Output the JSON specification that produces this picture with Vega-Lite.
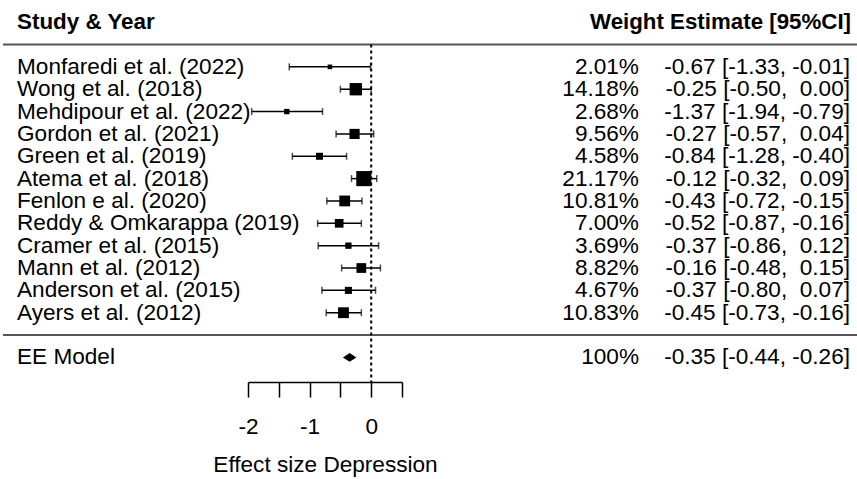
{
  "$schema": "https://vega.github.io/schema/vega-lite/v6.json",
  "width": 154,
  "height": 371,
  "autosize": {"type": "none"},
  "padding": {"left": 248, "top": 11, "right": 455, "bottom": 97},
  "background": "white",
  "config": {
    "view": {"stroke": null},
    "font": "Liberation Sans",
    "text": {"font": "Liberation Sans", "fontSize": 22.6, "color": "#000", "baseline": "middle"},
    "axisX": {"tickCount": 6}
  },
  "datasets": {
    "rows": [
      {"study": "Monfaredi et al. (2022)", "kind": "study", "weight": 2.01, "weight_label": "2.01%", "est": -0.67, "lo": -1.33, "hi": -0.01, "ci_label": "-0.67 [-1.33, -0.01]"},
      {"study": "Wong et al. (2018)", "kind": "study", "weight": 14.18, "weight_label": "14.18%", "est": -0.25, "lo": -0.50, "hi": 0.00, "ci_label": "-0.25 [-0.50, \u00a00.00]"},
      {"study": "Mehdipour et al. (2022)", "kind": "study", "weight": 2.68, "weight_label": "2.68%", "est": -1.37, "lo": -1.94, "hi": -0.79, "ci_label": "-1.37 [-1.94, -0.79]"},
      {"study": "Gordon et al. (2021)", "kind": "study", "weight": 9.56, "weight_label": "9.56%", "est": -0.27, "lo": -0.57, "hi": 0.04, "ci_label": "-0.27 [-0.57, \u00a00.04]"},
      {"study": "Green et al. (2019)", "kind": "study", "weight": 4.58, "weight_label": "4.58%", "est": -0.84, "lo": -1.28, "hi": -0.40, "ci_label": "-0.84 [-1.28, -0.40]"},
      {"study": "Atema et al. (2018)", "kind": "study", "weight": 21.17, "weight_label": "21.17%", "est": -0.12, "lo": -0.32, "hi": 0.09, "ci_label": "-0.12 [-0.32, \u00a00.09]"},
      {"study": "Fenlon e al. (2020)", "kind": "study", "weight": 10.81, "weight_label": "10.81%", "est": -0.43, "lo": -0.72, "hi": -0.15, "ci_label": "-0.43 [-0.72, -0.15]"},
      {"study": "Reddy & Omkarappa (2019)", "kind": "study", "weight": 7.00, "weight_label": "7.00%", "est": -0.52, "lo": -0.87, "hi": -0.16, "ci_label": "-0.52 [-0.87, -0.16]"},
      {"study": "Cramer et al. (2015)", "kind": "study", "weight": 3.69, "weight_label": "3.69%", "est": -0.37, "lo": -0.86, "hi": 0.12, "ci_label": "-0.37 [-0.86, \u00a00.12]"},
      {"study": "Mann et al. (2012)", "kind": "study", "weight": 8.82, "weight_label": "8.82%", "est": -0.16, "lo": -0.48, "hi": 0.15, "ci_label": "-0.16 [-0.48, \u00a00.15]"},
      {"study": "Anderson et al. (2015)", "kind": "study", "weight": 4.67, "weight_label": "4.67%", "est": -0.37, "lo": -0.80, "hi": 0.07, "ci_label": "-0.37 [-0.80, \u00a00.07]"},
      {"study": "Ayers et al. (2012)", "kind": "study", "weight": 10.83, "weight_label": "10.83%", "est": -0.45, "lo": -0.73, "hi": -0.16, "ci_label": "-0.45 [-0.73, -0.16]"},
      {"study": "EE Model", "kind": "model", "weight": 100, "weight_label": "100%", "est": -0.35, "lo": -0.44, "hi": -0.26, "ci_label": "-0.35 [-0.44, -0.26]"}
    ]
  },
  "layer": [
    {
      "data": {"values": [{"r": "line1"}, {"r": "line2"}]},
      "mark": {"type": "rule", "color": "#555", "strokeWidth": 2},
      "encoding": {
        "y": {"field": "r", "type": "nominal", "axis": null, "scale": {"domain": ["hdr", "line1", "Monfaredi et al. (2022)", "Wong et al. (2018)", "Mehdipour et al. (2022)", "Gordon et al. (2021)", "Green et al. (2019)", "Atema et al. (2018)", "Fenlon e al. (2020)", "Reddy & Omkarappa (2019)", "Cramer et al. (2015)", "Mann et al. (2012)", "Anderson et al. (2015)", "Ayers et al. (2012)", "line2", "EE Model"], "paddingInner": 0, "paddingOuter": 0.3, "align": 0}},
        "x": {"datum": -5.977, "type": "quantitative", "scale": {"domain": [-2, 0.5], "nice": false, "zero": false}, "axis": {"title": "Effect size Depression", "values": [-2, -1.5, -1, -0.5, 0, 0.5], "tickCount": 6, "format": ".1f", "labelExpr": "datum.value == -2 ? '-2' : datum.value == -1 ? '-1' : datum.value == 0 ? '0' : ' '", "labelFlush": false, "labelOverlap": false, "labelBound": false, "grid": false, "ticks": true, "tickSize": 15, "tickWidth": 1.5, "tickColor": "#000", "domainColor": "#000", "domainWidth": 1.5, "labelFontSize": 22.6, "labelColor": "#000", "labelPadding": 18, "labelFont": "Liberation Sans", "titleFont": "Liberation Sans", "titleFontSize": 22.6, "titleFontWeight": "normal", "titleColor": "#000", "titlePadding": 16}},
        "x2": {"datum": 7.886}
      }
    },
    {
      "data": {"values": [{"d": 0}]},
      "mark": {"type": "rule", "color": "#000", "strokeWidth": 2, "strokeDash": [3, 3]},
      "encoding": {
        "x": {"field": "d", "type": "quantitative"},
        "y": {"datum": "line1", "type": "nominal"},
        "y2": {"value": "height"}
      }
    },
    {
      "data": {"name": "rows"},
      "transform": [{"filter": "datum.kind == 'study'"}],
      "layer": [
        {"mark": {"type": "rule", "color": "#000", "strokeWidth": 1.5}, "encoding": {"x": {"field": "lo", "type": "quantitative"}, "x2": {"field": "hi"}, "y": {"field": "study", "type": "nominal"}}},
        {"mark": {"type": "tick", "color": "#000", "thickness": 1.5, "size": 7, "orient": "vertical"}, "encoding": {"x": {"field": "lo", "type": "quantitative"}, "y": {"field": "study", "type": "nominal"}}},
        {"mark": {"type": "tick", "color": "#000", "thickness": 1.5, "size": 7, "orient": "vertical"}, "encoding": {"x": {"field": "hi", "type": "quantitative"}, "y": {"field": "study", "type": "nominal"}}},
        {"mark": {"type": "point", "shape": "square", "filled": true, "color": "#000", "opacity": 1, "strokeWidth": 0}, "encoding": {"x": {"field": "est", "type": "quantitative"}, "y": {"field": "study", "type": "nominal"}, "size": {"field": "weight", "type": "quantitative", "scale": {"domain": [0, 21.17], "range": [0, 228]}, "legend": null}}}
      ]
    },
    {
      "data": {"name": "rows"},
      "transform": [{"filter": "datum.kind == 'model'"}],
      "mark": {"type": "point", "shape": "M-1,0L0,-0.65L1,0L0,0.65Z", "filled": true, "color": "#000", "opacity": 1, "size": 180, "strokeWidth": 0},
      "encoding": {"x": {"field": "est", "type": "quantitative"}, "y": {"field": "study", "type": "nominal"}}
    },
    {
      "data": {"name": "rows"},
      "layer": [
        {"mark": {"type": "text", "align": "left"}, "encoding": {"x": {"datum": -5.75, "type": "quantitative"}, "y": {"field": "study", "type": "nominal"}, "text": {"field": "study"}}},
        {"mark": {"type": "text", "align": "right"}, "encoding": {"x": {"datum": 4.347, "type": "quantitative"}, "y": {"field": "study", "type": "nominal"}, "text": {"field": "weight_label"}}},
        {"mark": {"type": "text", "align": "right"}, "encoding": {"x": {"datum": 7.773, "type": "quantitative"}, "y": {"field": "study", "type": "nominal"}, "text": {"field": "ci_label"}}}
      ]
    },
    {
      "data": {"values": [{"h": "Study & Year", "r": "hdr"}]},
      "mark": {"type": "text", "align": "left", "fontWeight": "bold", "fontSize": 22.4},
      "encoding": {"x": {"datum": -5.75, "type": "quantitative"}, "y": {"field": "r", "type": "nominal"}, "text": {"field": "h"}}
    },
    {
      "data": {"values": [{"h": "Weight Estimate [95%CI]", "r": "hdr"}]},
      "mark": {"type": "text", "align": "right", "fontWeight": "bold", "fontSize": 22.3},
      "encoding": {"x": {"datum": 7.789, "type": "quantitative"}, "y": {"field": "r", "type": "nominal"}, "text": {"field": "h"}}
    }
  ]
}
